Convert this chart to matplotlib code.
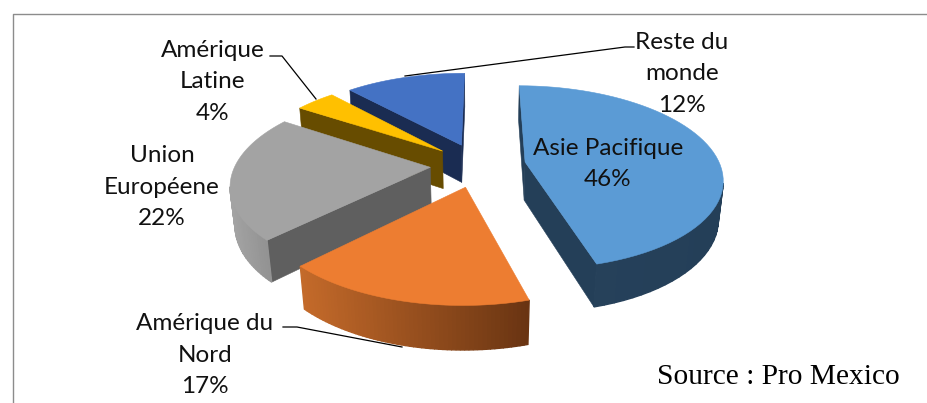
import numpy as np
import matplotlib
matplotlib.use("Agg")
import matplotlib.pyplot as plt
from matplotlib.patches import Polygon
from matplotlib.colors import to_rgb

# data
categories = ["Asie Pacifique", "Amérique du\nNord", "Union\nEuropéene", "Amérique\nLatine", "Reste du\nmonde"]
values = [46, 17, 22, 4, 12]
percents = ["46%", "17%", "22%", "4%", "12%"]

top_colors = ["#5B9BD5", "#ED7D31", "#A3A3A3", "#FFC000", "#4472C4"]
face_colors = ["#243F58", "#7A3E14", "#5F5F5F", "#674C00", "#1A2C52"]
arc_left = ["#27425C", "#C46A2A", "#A3A3A3", "#674C00", "#1A2C52"]
arc_right = ["#243F58", "#693412", "#8A8A8A", "#674C00", "#1A2C52"]
label_pos = [(608, 164), (205, 355), (162, 187), (213, 82), (682, 74)]

# projection of the tilted pie, in pixels
CX, CY = 478, 165
A, B = 195, 90
P = 0.1675
EXPLODE = 0.245
DEPTH = 39
SHRINK = 0.02
START = 0.3


def project(x, y, bottom=False):
    w = 1 + P * y
    if bottom:
        w = w + SHRINK
        return CX + A * x / w, CY - (B * y - DEPTH) / w
    return CX + A * x / w, CY - B * y / w


fig = plt.figure(figsize=(9.28, 4.03), dpi=100)
ax = fig.add_axes([0, 0, 1, 1])
ax.set_xlim(0, 928)
ax.set_ylim(403, 0)
ax.axis("off")

# chart frame
ax.plot([13.5, 13.5, 928], [403, 13.5, 13.5], color="#8C8C8C", lw=1)

fracs = np.array(values) / sum(values) * 360
starts = START + np.concatenate([[0], np.cumsum(fracs)[:-1]])


def quad(p1, p2, col, z, lw=0.4):
    a = project(*p1)
    b = project(*p2)
    c = project(*p2, bottom=True)
    d = project(*p1, bottom=True)
    ax.add_patch(Polygon([a, b, c, d], closed=True, fc=col, ec=col, lw=lw, zorder=z))


order = [4, 3, 2, 1, 0]
for z, i in enumerate(order):
    base = z * 10 + 2
    mid = np.radians(starts[i] + fracs[i] / 2)
    ox, oy = EXPLODE * np.sin(mid), EXPLODE * np.cos(mid)
    th = np.radians(np.linspace(starts[i], starts[i] + fracs[i], 60))
    xs = ox + np.sin(th)
    ys = oy + np.cos(th)
    apex = (ox, oy)

    # radial faces, clockwise round the slice: only the ones facing us
    sx0 = project(*apex)[0]
    if project(xs[0], ys[0])[0] < sx0:
        quad(apex, (xs[0], ys[0]), face_colors[i], base)
    if sx0 < project(xs[-1], ys[-1])[0]:
        quad((xs[-1], ys[-1]), apex, face_colors[i], base)

    # outer rim with a left-right gradient
    scr = [project(x, y)[0] for x, y in zip(xs, ys)]
    lo, hi = min(scr), max(scr)
    cl, cr = np.array(to_rgb(arc_left[i])), np.array(to_rgb(arc_right[i]))
    for j in range(len(th) - 1):
        if scr[j + 1] < scr[j]:
            t = ((scr[j] + scr[j + 1]) / 2 - lo) / max(hi - lo, 1)
            quad((xs[j], ys[j]), (xs[j + 1], ys[j + 1]), tuple(cl + (cr - cl) * t), base + 1, lw=1.0)

    pts = [project(*apex)] + [project(x, y) for x, y in zip(xs, ys)]
    ax.add_patch(Polygon(pts, closed=True, fc=top_colors[i], ec=top_colors[i], lw=0.4, zorder=base + 2))

# leader lines
leaders = [
    ([405, 625, 634], [76, 47, 47]),
    ([270, 282, 316], [56, 56, 99]),
    ([283, 297, 402], [327, 327, 347]),
]
for lx, ly in leaders:
    ax.plot(lx, ly, color="black", lw=0.9, zorder=80)

# labels
for name, pct, (x, y) in zip(categories, percents, label_pos):
    ax.text(x, y, name + "\n" + pct, ha="center", va="center", family="Lato",
            fontsize=17.5, linespacing=1.6, color="#111111", zorder=90)

ax.text(657, 377, "Source : Pro Mexico", ha="left", va="center", family="Liberation Serif",
        fontsize=21.2, color="black", zorder=90)

fig.savefig("out.png", dpi=100)
